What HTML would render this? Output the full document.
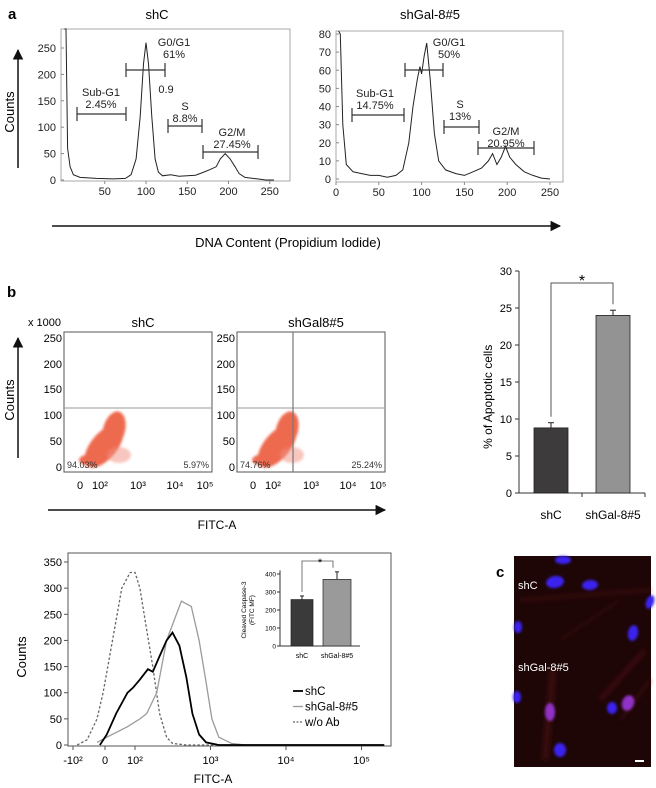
<!DOCTYPE html>
<html><head><meta charset="utf-8"><style>
html,body{margin:0;padding:0;background:#fff;}
svg{display:block;font-family:"Liberation Sans",Arial,sans-serif;}
</style></head><body>
<svg id="fig" width="656" height="788" viewBox="0 0 656 788">
<defs>
<marker id="arr" viewBox="0 0 10 10" refX="9" refY="5" markerWidth="9" markerHeight="7" orient="auto-start-reverse"><path d="M0,0 L10,5 L0,10 z" fill="#111"/></marker>
<filter id="blur2"><feGaussianBlur stdDeviation="2.5"/></filter>
<filter id="blur1"><feGaussianBlur stdDeviation="1.2"/></filter>
<filter id="blurS"><feGaussianBlur stdDeviation="1.3"/></filter>
</defs>
<text x="8" y="19" font-size="15" font-weight="bold">a</text>
<text x="7" y="297" font-size="15" font-weight="bold">b</text>
<text x="496" y="577" font-size="15" font-weight="bold">c</text>
<g id="layer"></g>
</svg>
<script>
// ===== Panel a data =====
const aTicksX=[50,100,150,200,250];
const aLeftTicksY=[0,50,100,150,200,250];
const aRightTicksX=[0,50,100,150,200,250];
const aRightTicksY=[0,10,20,30,40,50,60,70,80];
const shcDnaX=[1,3,5,8,12,20,40,60,75,82,88,93,97,100,103,107,111,115,120,130,140,160,170,178,185,190,196,202,208,213,220,235,245,255];
const shcDnaY=[290,290,60,25,10,5,3,2,3,10,40,120,220,260,220,120,40,15,8,10,7,9,15,20,25,40,50,40,25,12,5,2,0,0];
const galDnaX=[3,5,8,12,20,30,40,50,60,70,78,85,90,95,98,100,103,106,110,115,120,128,140,150,160,170,178,183,188,193,198,203,210,220,230,240,250];
const galDnaY=[85,80,30,8,4,3,2,2,1,2,5,20,40,55,62,58,68,75,55,25,10,5,3,2,4,6,10,14,8,12,18,12,8,4,2,0.5,0];
// ===== Panel b bar chart =====
const apoCats=["shC","shGal-8#5"];
const apoVals=[8.8,24];
const apoErr=[0.7,0.7];
const apoTicks=[0,5,10,15,20,25,30];
// ===== Histogram =====
const histTickVals=[-100,0,100,1000,10000,100000];
const histTickLabels=["-10²","0","10²","10³","10⁴","10⁵"];
const histYTicks=[0,50,100,150,200,250,300,350];
const noAbX=[-87,-56,-25,-6,25,56,84,100,116,143,172,212,262,314,480,200000];
const noAbY=[0,10,50,100,200,300,330,330,300,220,150,60,15,3,0,0];
const shcFX=[-16,6,37,75,94,116,148,172,212,262,314,387,478,575,707,875,1290,200000];
const shcFY=[0,20,60,100,110,125,145,140,170,200,215,190,130,60,20,5,0,0];
const galFX=[-25,6,75,116,143,194,262,354,412,478,556,707,875,1045,1290,1900,2900,200000];
const galFY=[5,15,35,50,60,100,200,250,275,270,265,200,120,50,15,3,0,0];
// ===== Inset =====
const insetCats=["shC","shGal-8#5"];
const insetVals=[258,370];
const insetErr=[20,42];
const insetTicks=[0,100,200,300,400];

const NS="http://www.w3.org/2000/svg";
const L=document.getElementById('layer');
function mk(tag,at,parent,txt){const e=document.createElementNS(NS,tag);for(const k in at)e.setAttribute(k,at[k]);if(txt!==undefined)e.textContent=txt;(parent||L).appendChild(e);return e;}

// ---------- Panel a ----------
function dnaPanel(o){
  const g=mk('g',{});
  
  
  const xs=v=>o.x0+v*o.kx, ys=v=>o.y0-v*o.ky;
  const fr=mk('rect',{x:o.bx,y:o.by,width:o.bw,height:o.bh,fill:'none',stroke:'#aaa','stroke-width':1},g);
  
  o.tx.forEach(t=>{const tl=mk('text',{x:xs(t),y:o.by+o.bh+14,'font-size':11,'text-anchor':'middle',fill:'#222'},g,t);
    
    mk('line',{x1:xs(t),x2:xs(t),y1:o.by+o.bh,y2:o.by+o.bh+3,stroke:'#888'},g);});
  o.ty.forEach(t=>{const tl=mk('text',{x:o.bx-5,y:ys(t)+4,'font-size':11,'text-anchor':'end',fill:'#222'},g,t);
    
    mk('line',{x1:o.bx,x2:o.bx+3,y1:ys(t),y2:ys(t),stroke:'#888'},g);});
  let d='';o.dx.forEach((v,i)=>{const yy=Math.max(o.by,ys(o.dy[i]));d+=(i?'L':'M')+xs(v).toFixed(1)+','+yy.toFixed(1);});
  const p=mk('path',{d:d,fill:'none',stroke:'#222','stroke-width':1},g);
  
  const t=mk('text',{x:o.tcx,y:19,'font-size':13,'text-anchor':'middle'},g,o.title);
  
  o.gates.forEach(q=>{const gg=mk('g',{},g);
    
    mk('line',{x1:q.x1,x2:q.x2,y1:q.y,y2:q.y,stroke:'#333','stroke-width':1.2},gg);
    mk('line',{x1:q.x1,x2:q.x1,y1:q.y-7,y2:q.y+7,stroke:'#333','stroke-width':1.2},gg);
    mk('line',{x1:q.x2,x2:q.x2,y1:q.y-7,y2:q.y+7,stroke:'#333','stroke-width':1.2},gg);
    q.lab.forEach((s,i)=>mk('text',{x:q.lx,y:q.ly+i*12,'font-size':11,'text-anchor':'middle',fill:'#222'},gg,s));
  });
}
dnaPanel({name:'dna-histogram-shc',bx:61,by:29,bw:229,bh:152,x0:63.5,kx:0.825,y0:180,ky:132/250,tx:aTicksX,ty:aLeftTicksY,dx:shcDnaX,dy:shcDnaY,title:'shC',tcx:157,
 gates:[{n:'g0g1',x1:126,x2:165,y:70,lab:['G0/G1','61%'],lx:174,ly:46},{n:'g0g1-cv',x1:0,x2:0,y:-50,lab:['0.9'],lx:166,ly:93},
 {n:'subg1',x1:77,x2:126,y:114,lab:['Sub-G1','2.45%'],lx:101,ly:96},{n:'s',x1:168,x2:202,y:126,lab:['S','8.8%'],lx:185,ly:110},
 {n:'g2m',x1:203,x2:258,y:152,lab:['G2/M','27.45%'],lx:232,ly:136}]});
dnaPanel({name:'dna-histogram-shgal',bx:336,by:31,bw:227,bh:151,x0:336,kx:0.856,y0:179,ky:145/80,tx:aRightTicksX,ty:aRightTicksY,dx:galDnaX,dy:galDnaY,title:'shGal-8#5',tcx:430,
 gates:[{n:'g0g1',x1:405,x2:443,y:70,lab:['G0/G1','50%'],lx:449,ly:46},
 {n:'subg1',x1:352,x2:404,y:115,lab:['Sub-G1','14.75%'],lx:375,ly:97},{n:'s',x1:444,x2:479,y:127,lab:['S','13%'],lx:460,ly:108},
 {n:'g2m',x1:478,x2:534,y:148,lab:['G2/M','20.95%'],lx:506,ly:135}]});
let e=mk('line',{x1:18,y1:168,x2:18,y2:50,stroke:'#111','stroke-width':1.5,'marker-end':'url(#arr)'});

e=mk('text',{x:0,y:0,'font-size':13,'text-anchor':'middle',transform:'translate(14,112) rotate(-90)'},L,'Counts');

e=mk('line',{x1:52,y1:226,x2:560,y2:226,stroke:'#111','stroke-width':1.5,'marker-end':'url(#arr)'});

e=mk('text',{x:288,y:247,'font-size':13,'text-anchor':'middle'},L,'DNA Content (Propidium Iodide)');


// ---------- Panel b scatter ----------
function scatter(o){
  const g=mk('g',{});
  
  mk('rect',{x:o.x,y:332,width:148,height:140,fill:'#fff',stroke:'#555','stroke-width':1},g);
  const yl=['0','50','100','150','200','250'];const yp=[467,441,415,389,364,338];
  yl.forEach((s,i)=>{mk('text',{x:o.x-2,y:yp[i]+4,'font-size':11,'text-anchor':'end'},g,s);});
  const xl=['0','10²','10³','10⁴','10⁵'];const xp=[16,36,74,111,141];
  xl.forEach((s,i)=>mk('text',{x:o.x+xp[i],y:489,'font-size':11,'text-anchor':'middle'},g,s));
  const c=mk('g',{filter:'url(#blurS)'},g);
  
  mk('ellipse',{cx:o.x+40,cy:446,rx:26,ry:13,fill:'#ee6a50',transform:`rotate(-50 ${o.x+40} 446)`},c);
  mk('ellipse',{cx:o.x+28,cy:460,rx:13,ry:6,fill:'#ee6a50'},c);
  mk('ellipse',{cx:o.x+50,cy:430,rx:11,ry:19,fill:'#ee6a50',transform:`rotate(15 ${o.x+50} 430)`},c);
  mk('ellipse',{cx:o.x+55,cy:455,rx:12,ry:8,fill:'#f09080',opacity:0.5},c);
  mk('line',{x1:o.x,x2:o.x+148,y1:408,y2:408,stroke:'#999','stroke-width':1},g);
  if(o.vline) mk('line',{x1:o.vline,x2:o.vline,y1:332,y2:472,stroke:'#777','stroke-width':1.2},g);
  mk('text',{x:o.x+3,y:468,'font-size':9,fill:'#333'},g,o.ll);
  mk('text',{x:o.x+145,y:468,'font-size':9,fill:'#333','text-anchor':'end'},g,o.lr);
  mk('text',{x:o.x+79,y:327,'font-size':13,'text-anchor':'middle'},g,o.title);
}
scatter({name:'scatter-shc',x:64,title:'shC',ll:'94.03%',lr:'5.97%'});
scatter({name:'scatter-shgal',x:237,title:'shGal8#5',ll:'74.76%',lr:'25.24%',vline:293});
e=mk('text',{x:28,y:326,'font-size':11},L,'x 1000');
e=mk('line',{x1:18,y1:458,x2:18,y2:338,stroke:'#111','stroke-width':1.5,'marker-end':'url(#arr)'});

e=mk('text',{x:0,y:0,'font-size':13,'text-anchor':'middle',transform:'translate(14,400) rotate(-90)'},L,'Counts');

e=mk('line',{x1:48,y1:510,x2:385,y2:510,stroke:'#111','stroke-width':1.5,'marker-end':'url(#arr)'});

e=mk('text',{x:217,y:529,'font-size':12,'text-anchor':'middle'},L,'FITC-A');


// ---------- Apoptotic bar chart ----------
(function(){
  const ay=v=>493-v*7.4; const ax0=519;
  const g=mk('g',{});
  mk('line',{x1:ax0,x2:ax0,y1:ay(30),y2:ay(0),stroke:'#333'},g);
  mk('line',{x1:ax0,x2:645,y1:ay(0),y2:ay(0),stroke:'#333'},g);
  mk('line',{x1:582,x2:582,y1:ay(0),y2:ay(0)+4,stroke:'#333'},g);
  mk('line',{x1:645,x2:645,y1:ay(0),y2:ay(0)+4,stroke:'#333'},g);
  apoTicks.forEach(t=>{mk('line',{x1:ax0-4,x2:ax0,y1:ay(t),y2:ay(t),stroke:'#333'},g);
    const tl=mk('text',{x:ax0-7,y:ay(t)+4,'font-size':11,'text-anchor':'end'},g,t);
    });
  const cx=[551,613],fills=['#3e3b3c','#939393'];
  apoVals.forEach((v,i)=>{
    const b=mk('rect',{x:cx[i]-17,y:ay(v),width:34,height:ay(0)-ay(v),fill:fills[i],stroke:'#222','stroke-width':0.8},g);
    
    mk('line',{x1:cx[i],x2:cx[i],y1:ay(v),y2:ay(v+apoErr[i]),stroke:'#222'},g);
    mk('line',{x1:cx[i]-3,x2:cx[i]+3,y1:ay(v+apoErr[i]),y2:ay(v+apoErr[i]),stroke:'#222'},g);
    const tl=mk('text',{x:cx[i],y:519,'font-size':12,'text-anchor':'middle'},g,apoCats[i]);
    
  });
  const top=283;
  mk('path',{d:`M${cx[0]},${ay(apoVals[0]+apoErr[0])-6} V${top} H${cx[1]} V${ay(apoVals[1]+apoErr[1])-6}`,fill:'none',stroke:'#555'},g);
  mk('text',{x:582,y:286,'font-size':16,'text-anchor':'middle'},g,'*');
  mk('text',{x:0,y:0,'font-size':12,'text-anchor':'middle',transform:`translate(492,${ay(13)}) rotate(-90)`},g,'% of Apoptotic cells');
})();

// ---------- FITC histogram ----------
function fx(v){if(v<0)return 105+v/100*32;if(v<100)return 105+v/100*30;return 135+(Math.log10(v)-2)*75.5;}
function fy(c){return 745-c*183/350;}
(function(){
  const g=mk('g',{});
  mk('rect',{x:68,y:553,width:323,height:193,fill:'none',stroke:'#555'},g);
  histYTicks.forEach(t=>{mk('line',{x1:64,x2:68,y1:fy(t),y2:fy(t),stroke:'#555'},g);
    const tl=mk('text',{x:62,y:fy(t)+4,'font-size':11,'text-anchor':'end'},g,t);
    });
  histTickVals.forEach((v,i)=>{mk('line',{x1:fx(v),x2:fx(v),y1:746,y2:750,stroke:'#555'},g);
    const tl=mk('text',{x:fx(v),y:764,'font-size':11,'text-anchor':'middle'},g,histTickLabels[i]);
    });
  function line(xs,ys,st,name){let d='';xs.forEach((v,i)=>{d+=(i?'L':'M')+Math.min(390,fx(v)).toFixed(1)+','+fy(ys[i]).toFixed(1);});
    const p=mk('path',Object.assign({d:d,fill:'none'},st),g);}
  line(noAbX,noAbY,{stroke:'#666','stroke-width':1.3,'stroke-dasharray':'2.5,2'},'series-no-antibody');
  line(galFX,galFY,{stroke:'#9a9a9a','stroke-width':1.3},'series-shgal');
  line(shcFX,shcFY,{stroke:'#000','stroke-width':1.8},'series-shc');
  mk('text',{x:0,y:0,'font-size':13,'text-anchor':'middle',transform:'translate(26,657) rotate(-90)'},g,'Counts');
  mk('text',{x:213,y:783,'font-size':12,'text-anchor':'middle'},g,'FITC-A');
  const leg=[['shC','#000','',1.8],['shGal-8#5','#9a9a9a','',1.3],['w/o Ab','#666','2,1.5',1.3]];
  leg.forEach((l,i)=>{const lg=mk('g',{},g);
    const y=691+i*15.5;mk('line',{x1:293,x2:303,y1:y,y2:y,stroke:l[1],'stroke-width':l[3],'stroke-dasharray':l[2]},lg);
    mk('text',{x:305,y:y+4,'font-size':11.5},lg,l[0]);});
  const iy=v=>646-v*72/400;const ix0=280;
  const ig=mk('g',{},g);
  mk('line',{x1:ix0,x2:ix0,y1:iy(420),y2:iy(0),stroke:'#333'},ig);
  mk('line',{x1:ix0,x2:360,y1:iy(0),y2:iy(0),stroke:'#333'},ig);
  insetTicks.forEach(t=>{mk('line',{x1:ix0-3,x2:ix0,y1:iy(t),y2:iy(t),stroke:'#333'},ig);
    mk('text',{x:ix0-4,y:iy(t)+2.5,'font-size':6.5,'text-anchor':'end'},ig,t);});
  const icx=[302,337],ifl=['#3a3a3a','#9a9a9a'],iw=[22,28];
  insetVals.forEach((v,i)=>{const b=mk('rect',{x:icx[i]-iw[i]/2,y:iy(v),width:iw[i],height:iy(0)-iy(v),fill:ifl[i],stroke:'#222','stroke-width':0.7},ig);
    
    mk('line',{x1:icx[i],x2:icx[i],y1:iy(v),y2:iy(v+insetErr[i]),stroke:'#222'},ig);
    mk('line',{x1:icx[i]-2,x2:icx[i]+2,y1:iy(v+insetErr[i]),y2:iy(v+insetErr[i]),stroke:'#222'},ig);
    mk('text',{x:icx[i],y:658,'font-size':7,'text-anchor':'middle'},ig,insetCats[i]);});
  mk('path',{d:`M${icx[0]},${iy(insetVals[0]+insetErr[0])-4} V561 H${icx[1]-4} V${iy(insetVals[1]+insetErr[1])-4}`,fill:'none',stroke:'#555','stroke-width':0.8},ig);
  mk('text',{x:320,y:566,'font-size':11,'text-anchor':'middle'},ig,'*');
  mk('text',{x:0,y:0,'font-size':6.5,'text-anchor':'middle',transform:`translate(246,${iy(200)}) rotate(-90)`},ig,'Cleaved Caspase-3');
  mk('text',{x:0,y:0,'font-size':6.5,'text-anchor':'middle',transform:`translate(254,${iy(200)}) rotate(-90)`},ig,'(FITC MF)');
})();

// ---------- Panel c micrograph ----------
(function(){
  const g=mk('g',{});
  mk('rect',{x:514,y:556,width:137,height:211,fill:'#1e0606'},g);
  const cells=mk('g',{filter:'url(#blur2)',opacity:0.45},g);
  [['M520,600 L650,590','#4a0f12',5],['M600,700 L645,650','#551015',6],['M545,760 L553,670','#5a1216',7],['M620,720 L650,680','#4a0f12',4],['M560,640 L620,600','#3a0b0e',4]].forEach(s=>mk('path',{d:s[0],stroke:s[1],'stroke-width':s[2],fill:'none'},cells));
  const nuc=[[563,560,8,4,0],[555,582,9,6,-10],[590,585,8,5,-5],[650,602,4,7,20],[518,627,4,6,0],[633,633,5,8,10],[517,697,4,6,0],[550,712,5,9,0],[612,708,5,6,0],[628,703,6,8,20],[560,750,6,7,0]];
  const ng=mk('g',{filter:'url(#blur1)'},g);
  nuc.forEach((n,i)=>{const el=mk('ellipse',{cx:n[0],cy:n[1],rx:n[2],ry:n[3],fill:(i==7||i==9)?'#9030c8':'#3a22f0',transform:`rotate(${n[4]} ${n[0]} ${n[1]})`},ng);
    });
  mk('text',{x:518,y:589,'font-size':11,fill:'#fff'},g,'shC');
  mk('text',{x:518,y:671,'font-size':11,fill:'#fff'},g,'shGal-8#5');
  const sb=mk('rect',{x:635,y:760,width:9,height:2,fill:'#fff'},g);
  
})();
</script>
</body></html>
